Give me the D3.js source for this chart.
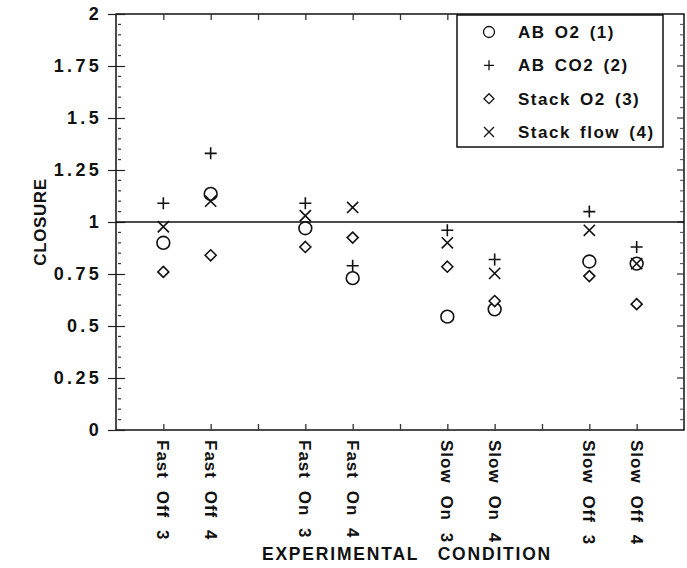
<!DOCTYPE html>
<html>
<head>
<meta charset="utf-8">
<script src="https://cdn.jsdelivr.net/npm/d3@7"></script>
<style>
  html, body { margin: 0; padding: 0; background: #fff; }
  svg { display: block; }
  text { font-family: "Liberation Sans", Arial, Helvetica, sans-serif; font-weight: bold; fill: #111; }
</style>
</head>
<body>
<svg id="chart" width="687" height="568"></svg>
<script>
// Experimental conditions and their slot on the x axis
const categories = ["Fast Off 3", "Fast Off 4", "Fast On 3", "Fast On 4",
                    "Slow On 3", "Slow On 4", "Slow Off 3", "Slow Off 4"];
const slots = [1, 2, 4, 5, 7, 8, 10, 11];

// Closure values per measurement method
const abO2      = [0.90, 1.135, 0.97, 0.73, 0.545, 0.58, 0.81, 0.80];
const abCO2     = [1.09, 1.33, 1.09, 0.79, 0.96, 0.82, 1.05, 0.88];
const stackO2   = [0.76, 0.84, 0.88, 0.925, 0.785, 0.62, 0.74, 0.605];
const stackFlow = [0.977, 1.10, 1.03, 1.07, 0.90, 0.753, 0.96, 0.80];

const seriesNames = ["AB O2 (1)", "AB CO2 (2)", "Stack O2 (3)", "Stack flow (4)"];
const seriesSymbols = ["circle", "plus", "diamond", "cross"];

const yTicks = [0, 0.25, 0.5, 0.75, 1, 1.25, 1.5, 1.75, 2];
const yTickLabels = ["0", "0.25", "0.5", "0.75", "1", "1.25", "1.5", "1.75", "2"];
const xTicks = [1, 2, 3, 4, 5, 6, 7, 8, 9, 10, 11];

const series = [abO2, abCO2, stackO2, stackFlow].map((vals, i) => ({
  name: seriesNames[i], symbol: seriesSymbols[i], values: vals
}));

const svg = d3.select("#chart");
const plot = { left: 116, right: 684, top: 14, bottom: 430 };

const x = d3.scaleLinear().domain([0, 12]).range([plot.left, plot.right]);
const y = d3.scaleLinear().domain([0, 2]).range([plot.bottom, plot.top]);

// Marker shapes
function symbolPath(kind, s) {
  switch (kind) {
    case "circle":
      return d3.arc()({ innerRadius: 0, outerRadius: s, startAngle: 0, endAngle: 2 * Math.PI });
    case "plus":
      return `M${-s},0H${s}M0,${-s}V${s}`;
    case "diamond":
      return `M0,${-s}L${s},0L0,${s}L${-s},0Z`;
    case "cross":
      return `M${-s},${-s}L${s},${s}M${-s},${s}L${s},${-s}`;
  }
}
const markerSize = { circle: 6.4, plus: 6, diamond: 5.5, cross: 5.6 };

// Frame
const g = svg.append("g");
g.append("rect")
  .attr("x", plot.left).attr("y", plot.top)
  .attr("width", plot.right - plot.left).attr("height", plot.bottom - plot.top)
  .attr("fill", "none").attr("stroke", "#111").attr("stroke-width", 1.5);

// Left axis: labelled major ticks crossing the axis, minor ticks inside
const leftAxis = d3.axisLeft(y).tickValues(yTicks)
  .tickFormat((d, i) => yTickLabels[i]).tickSize(8).tickPadding(6);
const la = g.append("g").attr("transform", `translate(${plot.left},0)`).call(leftAxis);
la.select(".domain").remove();
la.selectAll(".tick line").attr("x1", -8).attr("x2", 9).attr("stroke", "#222").attr("stroke-width", 1.2);
la.selectAll(".tick text")
  .style("font-size", "18px").style("letter-spacing", "3.3px")
  .attr("font-family", null).attr("fill", "#111");

const minorY = d3.range(0, 2.0001, 0.05).filter(v => Math.abs(v * 4 - Math.round(v * 4)) > 1e-6);
g.append("g").selectAll("line").data(minorY).join("line")
  .attr("x1", plot.left + 2).attr("x2", plot.left + 5)
  .attr("y1", d => y(d)).attr("y2", d => y(d))
  .attr("stroke", "#333").attr("stroke-width", 1.2);

// Right axis: inward ticks
const rightMajor = yTicks.filter(v => v > 0 && v < 2);
g.append("g").selectAll("line").data(rightMajor).join("line")
  .attr("x1", plot.right - 7).attr("x2", plot.right)
  .attr("y1", d => y(d)).attr("y2", d => y(d))
  .attr("stroke", "#333").attr("stroke-width", 1.2);
g.append("g").selectAll("line").data(minorY).join("line")
  .attr("x1", plot.right - 4).attr("x2", plot.right - 1)
  .attr("y1", d => y(d)).attr("y2", d => y(d))
  .attr("stroke", "#555").attr("stroke-width", 1.1);

// Bottom and top axes: inward ticks at every slot
const bottomAxis = d3.axisBottom(x).tickValues(xTicks).tickSize(-6).tickFormat("");
const ba = g.append("g").attr("transform", `translate(0,${plot.bottom})`).call(bottomAxis);
ba.select(".domain").remove();
ba.selectAll(".tick line").attr("stroke", "#333").attr("stroke-width", 1.3);

const topAxis = d3.axisTop(x).tickValues(xTicks).tickSize(-6).tickFormat("");
const ta = g.append("g").attr("transform", `translate(0,${plot.top})`).call(topAxis);
ta.select(".domain").remove();
ta.selectAll(".tick line").attr("stroke", "#333").attr("stroke-width", 1.3);

// Category labels, rotated to read downward
g.append("g").selectAll("text").data(categories).join("text")
  .attr("transform", (d, i) => `translate(${x(slots[i]) - 6},${plot.bottom + 10}) rotate(90)`)
  .attr("text-anchor", "start")
  .style("font-size", "17px").style("letter-spacing", "1px").style("word-spacing", "6px")
  .text(d => d);

// Reference line at closure = 1
g.append("line")
  .attr("x1", plot.left).attr("x2", plot.right)
  .attr("y1", y(1)).attr("y2", y(1))
  .attr("stroke", "#111").attr("stroke-width", 1.5);

// Data markers
series.forEach(s => {
  g.append("g").selectAll("path").data(s.values).join("path")
    .attr("transform", (d, i) => `translate(${x(slots[i])},${y(d)})`)
    .attr("d", symbolPath(s.symbol, markerSize[s.symbol]))
    .attr("fill", s.symbol === "circle" || s.symbol === "diamond" ? "#fff" : "none")
    .attr("stroke", "#111").attr("stroke-width", 1.6);
});

// Legend
const lg = g.append("g");
lg.append("rect")
  .attr("x", 457).attr("y", 15).attr("width", 206).attr("height", 132)
  .attr("fill", "#fff").attr("stroke", "#111").attr("stroke-width", 1.5);
const rowY = d3.scaleLinear().domain([0, 3]).range([32, 132]);
series.forEach((s, i) => {
  lg.append("path")
    .attr("transform", `translate(489,${rowY(i)})`)
    .attr("d", symbolPath(s.symbol, s.symbol === "circle" ? 5.5 : 5))
    .attr("fill", "none").attr("stroke", "#111").attr("stroke-width", 1.3);
  lg.append("text")
    .attr("x", 518).attr("y", rowY(i)).attr("dy", "0.36em")
    .style("font-size", "17px").style("letter-spacing", "1.5px").style("word-spacing", "3px")
    .text(s.name);
});

// Axis titles
svg.append("text")
  .attr("transform", `translate(46,${(plot.top + plot.bottom) / 2}) rotate(-90)`)
  .attr("text-anchor", "middle")
  .style("font-size", "17px").style("letter-spacing", "0.6px")
  .text("CLOSURE");

svg.append("text")
  .attr("x", 407).attr("y", 560)
  .attr("text-anchor", "middle")
  .style("font-size", "17.5px").style("letter-spacing", "1.8px").style("word-spacing", "12px")
  .text("EXPERIMENTAL CONDITION");
</script>
</body>
</html>
